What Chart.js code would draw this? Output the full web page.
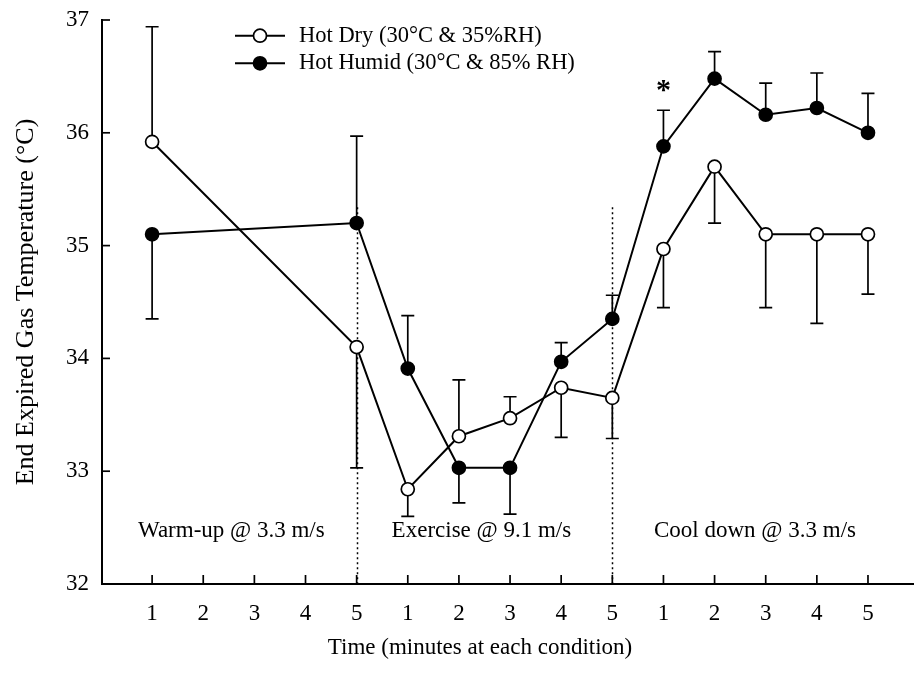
<!DOCTYPE html>
<html>
<head>
<meta charset="utf-8">
<script src="https://cdn.jsdelivr.net/npm/chart.js@4.4.1/dist/chart.umd.min.js"></script>
<style>
html,body{margin:0;padding:0;background:#fff;}
#wrap{width:914px;height:674px;}
</style>
</head>
<body>
<div id="wrap"><canvas id="c" width="914" height="674"></canvas></div>
<script>
// ---- data ----
const xTickLabels = ['1','2','3','4','5','1','2','3','4','5','1','2','3','4','5'];
const timePos = [1, 5, 6, 7, 8, 9, 10, 11, 12, 13, 14, 15];
const seriesNames = ['Hot Dry (30°C & 35%RH)', 'Hot Humid (30°C & 85% RH)'];
const hotDry =   [35.92, 34.10, 32.84, 33.31, 33.47, 33.74, 33.65, 34.97, 35.70, 35.10, 35.10, 35.10];
const hotDrySD = [ 1.02, -1.07, -0.24,  0.50,  0.19, -0.44, -0.36, -0.52, -0.50, -0.65, -0.79, -0.53];
const hotHumid =   [35.10, 35.20, 33.91, 33.03, 33.03, 33.97, 34.35, 35.88, 36.48, 36.16, 36.22, 36.00];
const hotHumidSD = [-0.75,  0.77,  0.47, -0.31, -0.41,  0.17,  0.21,  0.32,  0.24,  0.28,  0.31,  0.35];
const yTicks = [32, 33, 34, 35, 36, 37];
const phaseLabels = ['Warm-up @ 3.3 m/s', 'Exercise @ 9.1 m/s', 'Cool down @ 3.3 m/s'];
const dividerAt = [5, 10];
const signifMark = '*';
const signifAt = 11;
const xTitle = 'Time (minutes at each condition)';
const yTitle = 'End Expired Gas Temperature (°C)';

// ---- chart ----
const FONT = "'Liberation Serif', 'Times New Roman', serif";
Chart.defaults.font.family = FONT;
Chart.defaults.color = '#000';

const toPts = (arr) => arr.map((v, i) => ({x: timePos[i], y: v}));

const extras = {
  id: 'extras',
  beforeDatasetsDraw(chart) {
    const {ctx, scales: {x, y}} = chart;
    ctx.save();
    ctx.strokeStyle = '#000';
    // dotted dividers
    ctx.lineWidth = 1.5;
    ctx.setLineDash([2, 3]);
    dividerAt.forEach(v => {
      const px = Math.round(x.getPixelForValue(v)) + 0.5;
      ctx.beginPath();
      ctx.moveTo(px, y.getPixelForValue(35.34));
      ctx.lineTo(px, y.getPixelForValue(32));
      ctx.stroke();
    });
    ctx.setLineDash([]);
    // error bars
    ctx.lineWidth = 1.7;
    [[hotDry, hotDrySD], [hotHumid, hotHumidSD]].forEach(([m, sd]) => {
      m.forEach((v, i) => {
        const px = x.getPixelForValue(timePos[i]);
        const p0 = y.getPixelForValue(v);
        const p1 = y.getPixelForValue(v + sd[i]);
        ctx.beginPath();
        ctx.moveTo(px, p0); ctx.lineTo(px, p1);
        ctx.moveTo(px - 6.5, p1); ctx.lineTo(px + 6.5, p1);
        ctx.stroke();
      });
    });
    ctx.restore();
  },
  afterDraw(chart) {
    const {ctx, scales: {x, y}, chartArea} = chart;
    ctx.save();
    ctx.strokeStyle = '#000';
    ctx.fillStyle = '#000';
    ctx.lineWidth = 1.7;
    // inward tick marks
    xTickLabels.forEach((t, i) => {
      const px = x.getPixelForValue(i + 1);
      ctx.beginPath(); ctx.moveTo(px, chartArea.bottom); ctx.lineTo(px, chartArea.bottom - 9); ctx.stroke();
    });
    yTicks.forEach(v => {
      const py = y.getPixelForValue(v);
      ctx.beginPath(); ctx.moveTo(chartArea.left, py); ctx.lineTo(chartArea.left + 8, py); ctx.stroke();
    });
    // phase labels
    ctx.font = '23px ' + FONT;
    ctx.textAlign = 'center';
    ctx.textBaseline = 'middle';
    const phaseX = [2.55, 7.44, 12.79];
    phaseLabels.forEach((t, i) => ctx.fillText(t, x.getPixelForValue(phaseX[i]), y.getPixelForValue(32.47)));
    // significance mark
    ctx.font = 'bold 30px ' + FONT;
    ctx.textBaseline = 'alphabetic';
    ctx.fillText(signifMark, x.getPixelForValue(signifAt), y.getPixelForValue(36.42) + 14);
    // x title
    ctx.font = '23px ' + FONT;
    ctx.textBaseline = 'middle';
    ctx.fillText(xTitle, 480, 648);
    // legend
    const ds = chart.data.datasets;
    ctx.textAlign = 'left';
    [35.7, 63.3].forEach((ly, i) => {
      ctx.lineWidth = 2;
      ctx.beginPath(); ctx.moveTo(235, ly); ctx.lineTo(285, ly); ctx.stroke();
      ctx.beginPath(); ctx.arc(260, ly, 6.5, 0, Math.PI * 2);
      ctx.fillStyle = ds[i].pointBackgroundColor; ctx.fill();
      ctx.lineWidth = 1.7; ctx.stroke();
      ctx.fillStyle = '#000';
      ctx.font = '22.5px ' + FONT;
      ctx.fillText(ds[i].label, 299, ly);
    });
    ctx.restore();
  }
};

new Chart(document.getElementById('c'), {
  type: 'line',
  data: {
    datasets: [
      {
        label: seriesNames[0],
        data: toPts(hotDry),
        borderColor: '#000', borderWidth: 2,
        pointRadius: 6.5, pointHoverRadius: 6.5,
        pointBackgroundColor: '#fff', pointBorderColor: '#000', pointBorderWidth: 1.7,
        tension: 0, fill: false
      },
      {
        label: seriesNames[1],
        data: toPts(hotHumid),
        borderColor: '#000', borderWidth: 2,
        pointRadius: 6.5, pointHoverRadius: 6.5,
        pointBackgroundColor: '#000', pointBorderColor: '#000', pointBorderWidth: 1.7,
        tension: 0, fill: false
      }
    ]
  },
  options: {
    responsive: false,
    animation: false,
    devicePixelRatio: 1,
    layout: {autoPadding: false, padding: {top: 20, left: 0, right: 0, bottom: 0}},
    plugins: {legend: {display: false}, tooltip: {enabled: false}},
    scales: {
      x: {
        type: 'linear',
        min: 0.02, max: 15.9,
        afterBuildTicks: (s) => { s.ticks = xTickLabels.map((t, i) => ({value: i + 1})); },
        afterFit: (s) => { s.height = 90; s.paddingLeft = 0; s.paddingRight = 0; },
        ticks: {
          autoSkip: false, maxRotation: 0, padding: 16,
          font: {size: 23, family: FONT}, color: '#000',
          callback: (v, i) => xTickLabels[i]
        },
        grid: {display: false, drawTicks: false},
        border: {display: true, color: '#000', width: 2}
      },
      y: {
        min: 32, max: 37,
        afterBuildTicks: (s) => { s.ticks = yTicks.map(v => ({value: v})); },
        afterFit: (s) => { s.width = 102; s.paddingTop = 0; s.paddingBottom = 0; },
        ticks: {padding: 13, font: {size: 23, family: FONT}, color: '#000'},
        grid: {display: false, drawTicks: false},
        border: {display: true, color: '#000', width: 2},
        title: {display: true, text: yTitle, font: {size: 26, family: FONT}, color: '#000', padding: {top: 11, bottom: 0}}
      }
    }
  },
  plugins: [extras]
});
</script>
</body>
</html>
